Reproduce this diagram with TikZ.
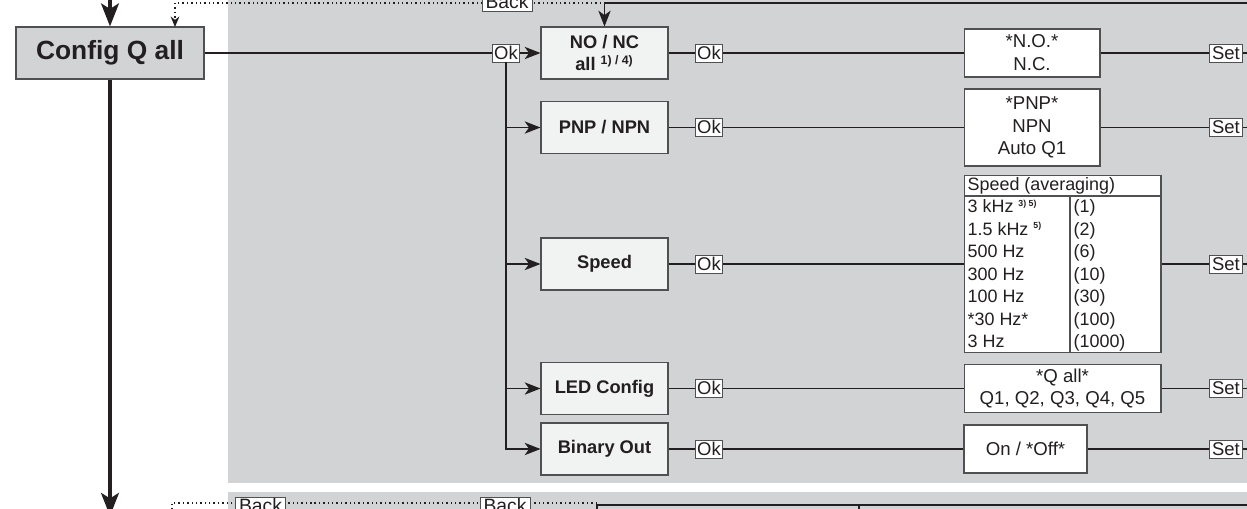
\documentclass[tikz,border=0pt]{standalone}
\usepackage{fontspec}
\setmainfont{Liberation Sans}
\usetikzlibrary{arrows.meta,calc,positioning}
\definecolor{PanelGray}{RGB}{209,211,212}
\definecolor{BoxGray}{RGB}{241,242,242}
\definecolor{EdgeGray}{RGB}{80,80,82}
\definecolor{InkBlack}{RGB}{35,31,32}
\newcommand\fnsup[1]{\textsuperscript{\bfseries #1}}

\begin{document}
\begin{tikzpicture}[x=0.02cm,y=-0.02cm,>={Stealth[length=9pt,width=7pt,inset=2.5pt]},
  line width=0.75pt,InkBlack,
  menubox/.style={draw=EdgeGray,line width=0.6pt,fill=BoxGray,minimum width=2.54cm,minimum height=1.04cm,align=center,inner sep=1pt,font=\fontsize{10.4}{13}\selectfont\bfseries},
  valbox/.style={draw=EdgeGray,line width=0.6pt,fill=white,align=center,inner sep=2pt,font=\fontsize{10.6}{13}\selectfont},
  oklab/.style={draw=EdgeGray,line width=0.5pt,fill=white,inner xsep=0.8pt,inner ysep=1pt,text height=7.6pt,text depth=0.6pt,font=\fontsize{10.5}{12}\selectfont},
  backlab/.style={oklab,inner xsep=2pt,font=\fontsize{11}{12}\selectfont},
  tabtext/.style={anchor=west,inner sep=0pt,text height=7.4pt,text depth=2pt,font=\fontsize{10.2}{12}\selectfont},
  backline/.style={line width=0.8pt,dash pattern=on 0.8pt off 1.7pt,-{Stealth[length=6pt,width=5pt]}},
  mainline/.style={line width=2.5pt,-{Stealth[length=13pt,width=10pt,inset=3pt]}}]
\useasboundingbox (0,0) rectangle (1247,508);
\clip (0,0) rectangle (1247,508);
% grey panels
\fill[PanelGray] (228,-5) rectangle (1252,483);
\fill[PanelGray] (228,492) rectangle (1252,520);

% main menu entry
\node[draw=EdgeGray,line width=0.6pt,fill=PanelGray,minimum width=3.76cm,minimum height=1.04cm,font=\fontsize{15}{18}\selectfont\bfseries] (cfg) at (110,53) {Config Q all};
\coordinate (mtop) at (110,-20);
\coordinate (mbot) at (110,516);
\draw[mainline] (mtop) -- (cfg);
\draw[mainline] (cfg) -- (mbot);

% sub menu rows
\node[oklab] (ok0) at (506,53) {Ok};
\foreach \y/\nm/\lab in {53/nonc/{NO / NC\\all \fnsup{\scriptsize 1) / 4)}},127.5/pnp/{PNP / NPN},264/speed/{Speed},388.5/led/{LED Config},449/bin/{Binary Out}}
  {\node[menubox] (\nm) at (604.5,\y) {\lab};
   \node[oklab] (ok\nm) at (709,\y) {Ok};
   \node[oklab,inner xsep=1.5pt] (set\nm) at (1226,\y) {Set};
   \coordinate (r\nm) at (1247,\y);}

% value boxes
\node[valbox,minimum width=2.72cm,minimum height=0.96cm] (vnonc) at (1032,53) {*N.O.*\\N.C.};
\node[valbox,minimum width=2.72cm,minimum height=1.54cm] (vpnp) at (1032,127.5) {*PNP*\\NPN\\Auto Q1};
\node[valbox,minimum width=3.94cm,minimum height=3.54cm] (vspeed) at (1062.5,264) {};
\node[valbox,minimum width=3.94cm,minimum height=0.96cm] (vled) at (1062.5,388.5) {*Q all*\\Q1, Q2, Q3, Q4, Q5};
\node[valbox,minimum width=2.46cm,minimum height=0.96cm] (vbin) at (1025.5,449) {On / *Off*};

% speed table
\draw[EdgeGray,line width=0.6pt] (964,196) -- (1161,196) (1070,196) -- (1070,352.5);
\node[tabtext] (shead) at (967,186) {Speed (averaging)};
\foreach \f/\a [count=\i] in {{3 kHz \fnsup{\tiny 3) 5)}}/(1),{1.5 kHz \fnsup{\tiny 5)}}/(2),500 Hz/(6),300 Hz/(10),100 Hz/(30),*30 Hz*/(100),3 Hz/(1000)}
  {\node[tabtext] (sf\i) at (967,{185.5+22.5*\i}) {\f};
   \node[tabtext] (sa\i) at (1073,{185.5+22.5*\i}) {\a};}

% connectors
\draw (cfg) -- (ok0);
\draw[->] (ok0) -- (nonc);
\foreach \nm in {pnp,speed,led,bin}
  \draw[->] (ok0.south) |- (\nm);
\foreach \nm in {nonc,pnp,speed,led,bin}
  {\draw (\nm) -- (ok\nm) -- (v\nm);
   \draw (v\nm) -- (set\nm) -- (r\nm);}

% back paths
\coordinate (topr) at (1247,3);
\draw[->] (topr) -| (nonc);
\coordinate (bk0) at (601,3);
\coordinate (cfgin) at (175,27);
\draw[backline] (bk0) -| (cfgin);
\node[backlab] (back0) at (507,2) {Back};
\coordinate (bk1) at (597,503);
\coordinate (nxtin) at (172,530);
\draw[backline] (bk1) -| (nxtin);
\node[backlab] (back1) at (260.5,506) {Back};
\node[backlab] (back2) at (505,506) {Back};

% next table
\draw (597,520) -- (597,505) -- (1250,505);
\draw (859,505) -- (859,520);
\end{tikzpicture}
\end{document}
